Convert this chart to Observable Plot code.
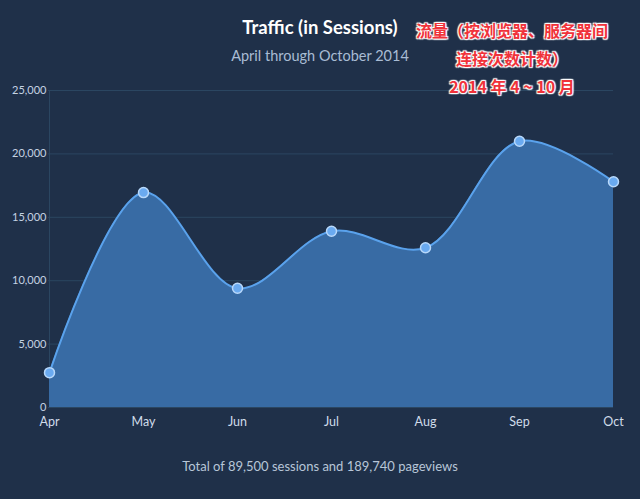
<!DOCTYPE html>
<html>
<head>
<meta charset="utf-8">
<script src="https://cdn.jsdelivr.net/npm/d3@7"></script>
<script src="https://cdn.jsdelivr.net/npm/@observablehq/plot@0.6"></script>
<style>
  html, body { margin: 0; padding: 0; background: #1f3049; }
  #wrap { position: relative; width: 640px; height: 499px; background: #1f3049; font-family: Lato, "Open Sans", sans-serif; overflow: hidden; }
  #header { position: relative; height: 80px; }
  #title { position: absolute; left: 0; width: 640px; top: 16px; text-align: center; color: #ffffff; font-weight: bold; font-size: 18.5px; }
  #subtitle { position: absolute; left: 0; width: 640px; top: 47px; text-align: center; color: #a9bcd4; font-size: 14.5px; }
  #note { position: absolute; left: 407px; width: 210px; top: 16px; text-align: center; color: #f0323a; font-size: 16px; font-weight: bold; line-height: 28px;
          font-family: "Noto Sans CJK SC", sans-serif;
          text-shadow: 0 0 2px #fff, 0 0 2px #fff, 1px 1px 1px #fff, -1px -1px 1px #fff, 1px -1px 1px #fff, -1px 1px 1px #fff; }
  #caption { text-align: center; color: #b7c6d8; font-size: 13px; padding-top: 8px; }
</style>
</head>
<body>
<div id="wrap">
  <div id="header">
    <div id="title">Traffic (in Sessions)</div>
    <div id="subtitle">April through October 2014</div>
    <div id="note">流量（按浏览器、服务器间<br>连接次数计数）<br>2014 年 4 ~ 10 月</div>
  </div>
  <div id="chart"></div>
  <div id="caption">Total of 89,500 sessions and 189,740 pageviews</div>
</div>
<script>
const months = ["Apr", "May", "Jun", "Jul", "Aug", "Sep", "Oct"];
const sessions = [2750, 16950, 9400, 13900, 12600, 21000, 17800];
const yTicks = [0, 5000, 10000, 15000, 20000, 25000];

const data = months.map((m, i) => ({month: m, value: sessions[i]}));

const chart = Plot.plot({
  width: 640,
  height: 370,
  marginTop: 10,
  marginBottom: 43,
  marginLeft: 48,
  marginRight: 27,
  style: {background: "transparent", color: "#c5d3e3", fontFamily: "Lato, 'Open Sans', sans-serif", fontSize: "11px"},
  x: {type: "point", domain: months, padding: 0, label: null, tickSize: 0, tickPadding: 10},
  y: {domain: [0, 25000], ticks: yTicks, tickFormat: d3.format(","), label: null, tickSize: 0, tickPadding: 2},
  marks: [
    Plot.gridY(yTicks, {stroke: "#2b4661", strokeOpacity: 1, strokeWidth: 1}),
    Plot.ruleX([months[0]], {stroke: "#2b4661", strokeWidth: 1, y1: 0, y2: 25000}),
    Plot.areaY(data, {x: "month", y: "value", fill: "#386ba4", curve: "catmull-rom"}),
    Plot.lineY(data, {x: "month", y: "value", stroke: "#5aa2ec", strokeWidth: 2, curve: "catmull-rom"}),
    Plot.ruleY([0], {x1: months[0], x2: months[months.length - 1], stroke: "#5b96d2", strokeWidth: 3}),
    Plot.dot(data, {x: "month", y: "value", r: 5, fill: "#6aaaf0", stroke: "#b8d8fa", strokeWidth: 1.5}),
    Plot.axisX({tickSize: 0, tickPadding: 10, fontSize: 12.5, fill: "#d0dcea"}),
    Plot.axisY(yTicks, {tickSize: 0, tickPadding: 2, tickFormat: d3.format(","), fill: "#c5d3e3"})
  ]
});
document.getElementById("chart").appendChild(chart);
</script>
</body>
</html>
